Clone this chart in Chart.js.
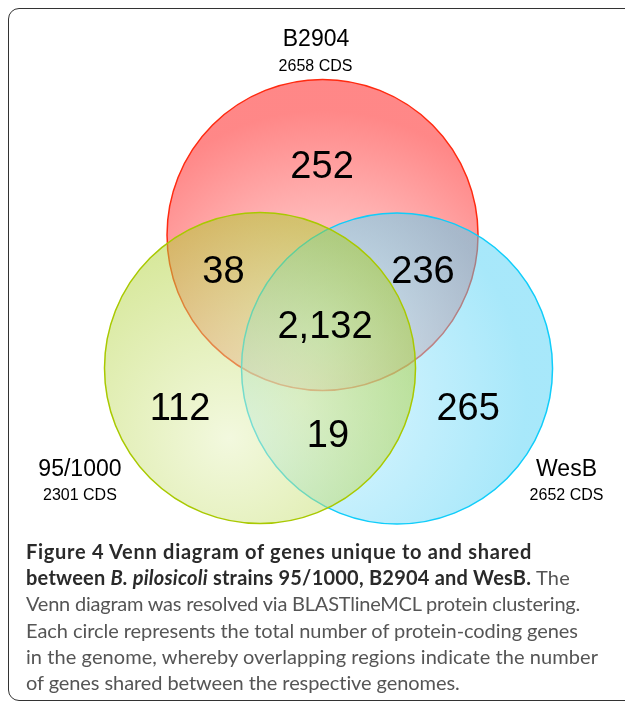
<!DOCTYPE html>
<html><head><meta charset="utf-8">
<script src="https://cdn.jsdelivr.net/npm/chart.js@4.4.1/dist/chart.umd.min.js"></script>
<style>
html,body{margin:0;padding:0;background:#fff;width:625px;height:702px;overflow:hidden}
#frame{position:absolute;left:8px;top:8px;width:660px;height:693px;border:1.6px solid #333;border-radius:11px;box-sizing:border-box}
#cap{position:absolute;left:26px;top:538px;font-family:Lato,'Open Sans',sans-serif;font-size:20px;line-height:26.2px;color:#555;white-space:nowrap}
#cap b{color:#2a2a2a}
#cap span.l{display:inline-block}
canvas{position:absolute;left:0;top:0}
</style></head>
<body>
<div id="frame"></div>
<canvas id="c" width="625" height="702"></canvas>
<div id="cap">
<div><span class="l"><b>Figure 4 Venn diagram of genes unique to and shared</b></span></div>
<div><span class="l"><b>between <i>B. pilosicoli</i> strains 95/1000, B2904 and WesB.</b> The</span></div>
<div><span class="l">Venn diagram was resolved via BLASTlineMCL protein clustering.</span></div>
<div><span class="l">Each circle represents the total number of protein-coding genes</span></div>
<div><span class="l">in the genome, whereby overlapping regions indicate the number</span></div>
<div><span class="l">of genes shared between the respective genomes.</span></div>
</div>
<script>
// ---- data ----
const setNames = ['B2904', '95/1000', 'WesB'];
const setCds = [2658, 2301, 2652];
const regionNames = ['B2904 only', 'B2904 & 95/1000', 'B2904 & WesB', 'all three', '95/1000 only', '95/1000 & WesB', 'WesB only'];
const regionCounts = [252, 38, 236, 2132, 112, 19, 265];

// ---- layout (units of one circle radius, origin at diagram centre) ----
const view = { xMin: -2.090, xMax: 1.929, yMin: -2.457, yMax: 2.058 };
const circleCenters = [[-0.016, 0.547], [-0.418, -0.309], [0.463, -0.312]];
const circleRadius = 1;
const regionAnchors = [[-0.019, 0.916], [-0.653, 0.241], [0.630, 0.241], [0.000, -0.113], [-0.932, -0.646], [0.019, -0.814], [0.920, -0.646]];
const setNameAnchors = [[-0.058, 1.762], [-1.576, -1.003], [1.553, -1.003]];
const setCdsAnchors = [[-0.061, 1.601], [-1.576, -1.158], [1.553, -1.158]];
const captionWidths = [506, 544, 554, 552, 572, 434];

// ---- styles ----
const strokeColors = ['#ff2a10', '#a9c900', '#10cdfa'];
const lightSpots = [[0, -0.65], [-0.2, -0.45], [-0.62, -0.2]];
const innerColors = ['rgba(255,219,219,0.55)', 'rgba(230,242,190,0.5)', 'rgba(197,239,255,0.5)'];
const outerColors = ['rgba(255,37,37,0.55)', 'rgba(169,205,40,0.5)', 'rgba(81,209,245,0.5)'];
const drawOrder = [3, 1, 2];

function pxRadius(chart) {
  const xs = chart.scales.x;
  if (!xs) return 0;
  const r = Math.abs(xs.getPixelForValue(circleRadius) - xs.getPixelForValue(0));
  return isFinite(r) ? r : 0;
}

function gradientFor(i) {
  return (ctx) => {
    const chart = ctx.chart;
    const xs = chart.scales.x, ys = chart.scales.y;
    const rpx = pxRadius(chart);
    if (!xs || !ys || !rpx) return outerColors[i];
    const [cx, cy] = circleCenters[i];
    const [dx, dy] = lightSpots[i];
    const gx = xs.getPixelForValue(cx + dx), gy = ys.getPixelForValue(cy + dy);
    if (!isFinite(gx) || !isFinite(gy)) return outerColors[i];
    const g = chart.ctx.createRadialGradient(gx, gy, 0, gx, gy, rpx * 1.45);
    g.addColorStop(0, innerColors[i]);
    g.addColorStop(1, outerColors[i]);
    return g;
  };
}

const datasets = setNames.map((name, i) => ({
  label: name,
  data: [{ x: circleCenters[i][0], y: circleCenters[i][1] }],
  order: drawOrder[i],
  showLine: false,
  pointBackgroundColor: gradientFor(i),
  pointBorderColor: strokeColors[i],
  pointBorderWidth: 1.5,
  pointRadius: (ctx) => pxRadius(ctx.chart),
  pointHoverRadius: (ctx) => pxRadius(ctx.chart),
  clip: false
}));

const textPlugin = {
  id: 'vennText',
  afterDatasetsDraw(chart) {
    const { ctx } = chart;
    const xs = chart.scales.x, ys = chart.scales.y;
    ctx.save();
    ctx.fillStyle = '#000';
    ctx.textAlign = 'center';
    ctx.textBaseline = 'alphabetic';
    ctx.font = '38px "Liberation Sans", Arial, sans-serif';
    regionCounts.forEach((c, i) => {
      ctx.fillText(c.toLocaleString('en-US'), xs.getPixelForValue(regionAnchors[i][0]), ys.getPixelForValue(regionAnchors[i][1]));
    });
    setNames.forEach((n, i) => {
      ctx.font = '23px "Liberation Sans", Arial, sans-serif';
      ctx.fillText(n, xs.getPixelForValue(setNameAnchors[i][0]), ys.getPixelForValue(setNameAnchors[i][1]));
      ctx.font = '16px "Liberation Sans", Arial, sans-serif';
      ctx.fillText(setCds[i] + ' CDS', xs.getPixelForValue(setCdsAnchors[i][0]), ys.getPixelForValue(setCdsAnchors[i][1]));
    });
    ctx.restore();
  }
};

new Chart(document.getElementById('c'), {
  type: 'scatter',
  data: { datasets },
  options: {
    responsive: false,
    animation: false,
    devicePixelRatio: 1,
    events: [],
    layout: { padding: 0 },
    plugins: { legend: { display: false }, tooltip: { enabled: false } },
    scales: {
      x: { type: 'linear', display: false, min: view.xMin, max: view.xMax },
      y: { type: 'linear', display: false, min: view.yMin, max: view.yMax }
    }
  },
  plugins: [textPlugin]
});

// fit caption lines to the widths seen in the figure
function fitCaption() {
  document.querySelectorAll('#cap span.l').forEach((s, i) => {
    s.style.letterSpacing = '0px';
    const w = s.getBoundingClientRect().width;
    const n = s.textContent.length;
    s.style.letterSpacing = ((captionWidths[i] - w) / n).toFixed(3) + 'px';
  });
}
fitCaption();
if (document.fonts && document.fonts.ready) document.fonts.ready.then(fitCaption);
</script>
</body></html>
